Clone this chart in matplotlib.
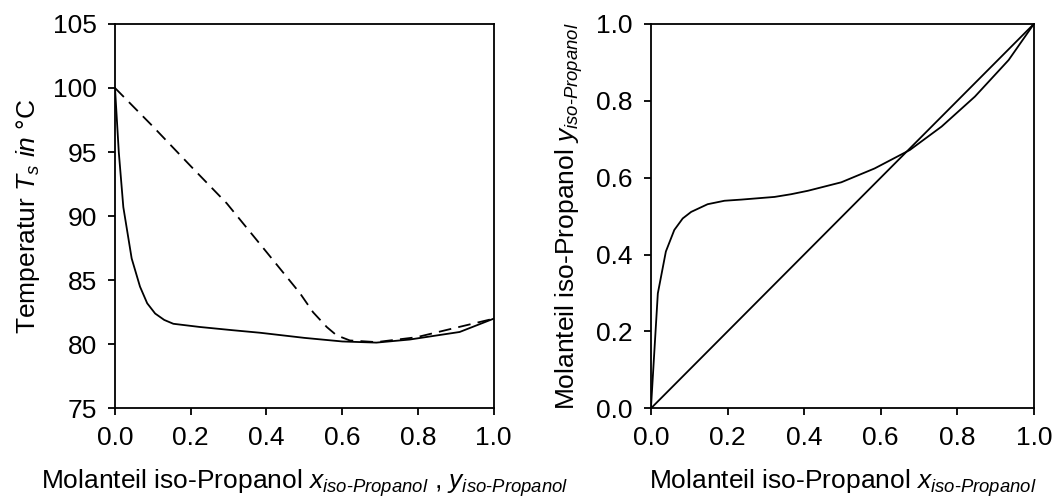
import matplotlib
matplotlib.use("Agg")
import matplotlib.pyplot as plt
from matplotlib.ticker import FormatStrFormatter

plt.rcParams['font.family'] = ['Liberation Sans', 'DejaVu Sans']
plt.rcParams['mathtext.fontset'] = 'custom'
plt.rcParams['mathtext.rm'] = 'Liberation Sans'
plt.rcParams['mathtext.it'] = 'Liberation Sans:italic'
plt.rcParams['mathtext.bf'] = 'Liberation Sans:bold'

# ------------------------------------------------------------------
# Data
# ------------------------------------------------------------------
# boiling curve T(x)
x_boil = [0.0, 0.01, 0.022, 0.044, 0.066, 0.085, 0.106, 0.13, 0.154, 0.224, 0.31,
          0.383, 0.5, 0.6, 0.69, 0.778, 0.91, 1.0]
t_boil = [100.0, 95.0, 90.7, 86.7, 84.5, 83.2, 82.4, 81.9, 81.6, 81.35, 81.1,
          80.9, 80.5, 80.22, 80.13, 80.37, 80.96, 82.0]

# dew curve T(y)
y_dew = [0.0, 0.1, 0.2, 0.295, 0.40, 0.488, 0.523, 0.559, 0.585, 0.62, 0.69,
         0.796, 0.866, 1.0]
t_dew = [100.0, 97.0, 93.9, 91.0, 87.2, 84.0, 82.5, 81.35, 80.7, 80.3, 80.17,
         80.55, 81.05, 82.0]

# equilibrium curve y(x)
x_eq = [0.0, 0.018, 0.039, 0.061, 0.083, 0.105, 0.148, 0.192, 0.236, 0.323, 0.366,
        0.41, 0.497, 0.584, 0.676, 0.759, 0.846, 0.934, 1.0]
y_eq = [0.0, 0.299, 0.408, 0.464, 0.494, 0.511, 0.531, 0.540, 0.543, 0.550, 0.557,
        0.566, 0.588, 0.624, 0.672, 0.733, 0.811, 0.906, 1.0]

# diagonal
x_diag = [0.0, 1.0]
y_diag = [0.0, 1.0]

HY = "\u2010"
SUB = r"_{\mathit{iso" + HY + r"Propanol}}"

fig = plt.figure(figsize=(10.55, 4.98), dpi=100)
ax1 = fig.add_axes([0.109, 0.180, 0.359, 0.772])
ax2 = fig.add_axes([0.617, 0.180, 0.363, 0.772])

lw = 1.3
fs = 19

# ------------------------------------------------------------------
# Left: T-x,y diagram
# ------------------------------------------------------------------
ax1.plot(x_boil, t_boil, color='black', lw=lw)
ax1.plot(y_dew, t_dew, color='black', lw=lw, dashes=(7, 4))
ax1.set_xlim(0, 1)
ax1.set_ylim(75, 105)
ax1.set_xticks([0, 0.2, 0.4, 0.6, 0.8, 1.0])
ax1.set_yticks([75, 80, 85, 90, 95, 100, 105])
ax1.xaxis.set_major_formatter(FormatStrFormatter('%.1f'))
ax1.set_ylabel(r"Temperatur $T_s$ $\mathit{in}$ °C", fontsize=fs, labelpad=8)
ax1.set_xlabel(r"Molanteil iso-Propanol $x" + SUB + r"$ , $y" + SUB + r"$",
               fontsize=fs, labelpad=12)

# ------------------------------------------------------------------
# Right: x-y diagram
# ------------------------------------------------------------------
ax2.plot(x_eq, y_eq, color='black', lw=lw)
ax2.plot(x_diag, y_diag, color='black', lw=lw)
ax2.set_xlim(0, 1)
ax2.set_ylim(0, 1)
ax2.set_xticks([0, 0.2, 0.4, 0.6, 0.8, 1.0])
ax2.set_yticks([0, 0.2, 0.4, 0.6, 0.8, 1.0])
ax2.xaxis.set_major_formatter(FormatStrFormatter('%.1f'))
ax2.yaxis.set_major_formatter(FormatStrFormatter('%.1f'))
ax2.set_ylabel(r"Molanteil iso-Propanol $y" + SUB + r"$", fontsize=fs, labelpad=8)
ax2.set_xlabel(r"Molanteil iso-Propanol $x" + SUB + r"$", fontsize=fs, labelpad=12)

for ax in (ax1, ax2):
    ax.tick_params(direction='out', length=5, width=1.3, labelsize=fs, pad=8)
    for sp in ax.spines.values():
        sp.set_linewidth(1.3)

fig.savefig("out.png", dpi=100)
